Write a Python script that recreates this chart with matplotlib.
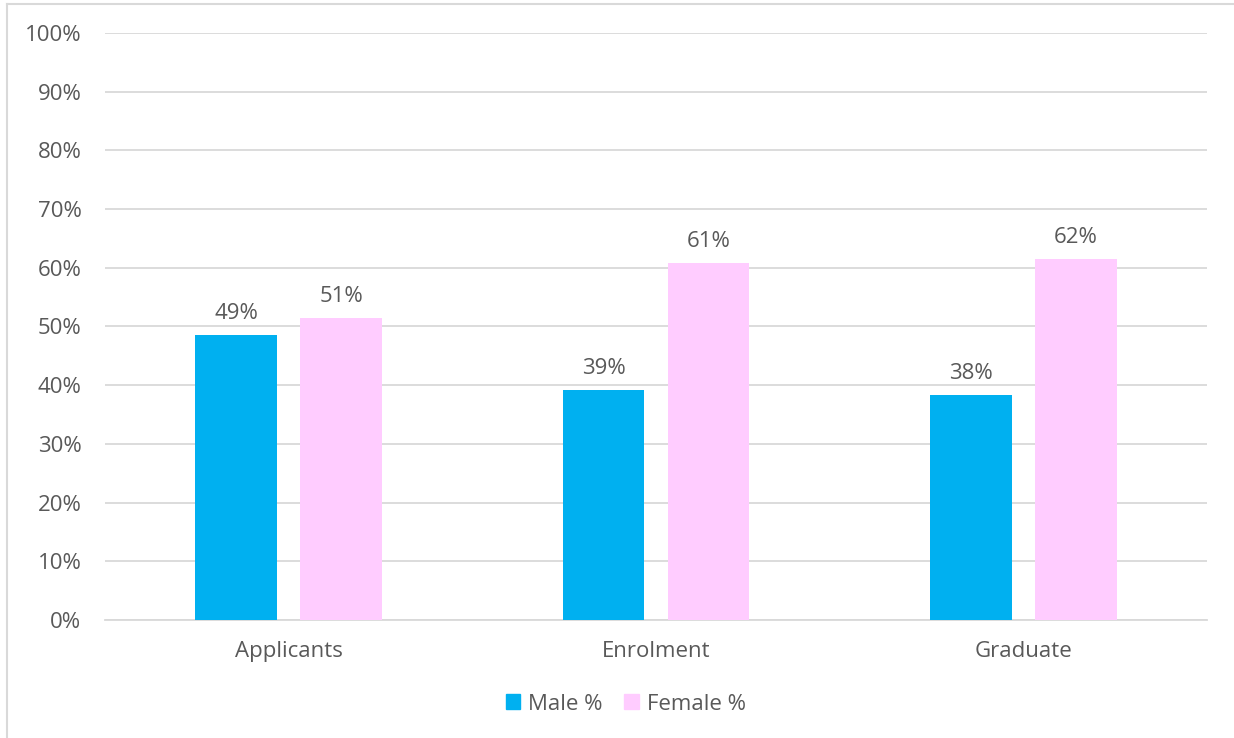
import matplotlib.pyplot as plt
import numpy as np
from matplotlib.lines import Line2D
from matplotlib.patches import Patch

# data
categories = ['Applicants', 'Enrolment', 'Graduate']
male_pct = [48.6, 39.2, 38.3]
female_pct = [51.4, 60.8, 61.5]
y_ticks = list(range(0, 101, 10))

male_color = '#00B0F0'
female_color = '#FFCCFF'
text_color = '#595959'
grid_color = '#D9D9D9'

plt.rcParams['font.family'] = ['Open Sans', 'DejaVu Sans']

fig = plt.figure(figsize=(12.34, 7.38), dpi=100)
ax = fig.add_axes([0.0851, 0.1599, 0.8930, 0.7954])

x = np.arange(len(categories))
w = 0.223
off = 0.143
b1 = ax.bar(x - off, male_pct, w, color=male_color, label='Male %', zorder=3)
b2 = ax.bar(x + off, female_pct, w, color=female_color, label='Female %', zorder=3)

for bars in (b1, b2):
    for rect in bars:
        h = rect.get_height()
        ax.annotate(f'{h:.0f}%', (rect.get_x() + rect.get_width() / 2, h),
                    xytext=(0, 8), textcoords='offset points',
                    ha='center', va='bottom', fontsize=16, color=text_color)

ax.set_xlim(-0.5, len(categories) - 0.5)
ax.set_ylim(0, 100)
ax.set_yticks(y_ticks)
ax.set_yticklabels([f'{t}%' for t in y_ticks])
ax.set_xticks(x)
ax.set_xticklabels(categories)
ax.tick_params(axis='both', length=0, labelsize=16, labelcolor=text_color)
ax.tick_params(axis='y', pad=17)
ax.tick_params(axis='x', pad=15)
ax.yaxis.grid(True, color=grid_color, linewidth=1.3, zorder=0)
for s in ['top', 'right', 'left']:
    ax.spines[s].set_visible(False)
ax.spines['bottom'].set_color(grid_color)
ax.spines['bottom'].set_linewidth(1.3)

handles = [Patch(color=male_color, label='Male %'), Patch(color=female_color, label='Female %')]
fig.legend(handles=handles, loc='center', bbox_to_anchor=(0.507, 0.046), ncol=2,
           frameon=False, fontsize=16, labelcolor=text_color,
           handlelength=0.65, handleheight=0.65, handletextpad=0.35, columnspacing=1.0)

# outer chart border (left and top edges visible)
fig.add_artist(Line2D([0.0057, 0.0057], [0, 0.9946], transform=fig.transFigure, color=grid_color, linewidth=1.5))
fig.add_artist(Line2D([0.0057, 1.0], [0.9946, 0.9946], transform=fig.transFigure, color=grid_color, linewidth=1.5))

fig.savefig('out.png', dpi=100)
